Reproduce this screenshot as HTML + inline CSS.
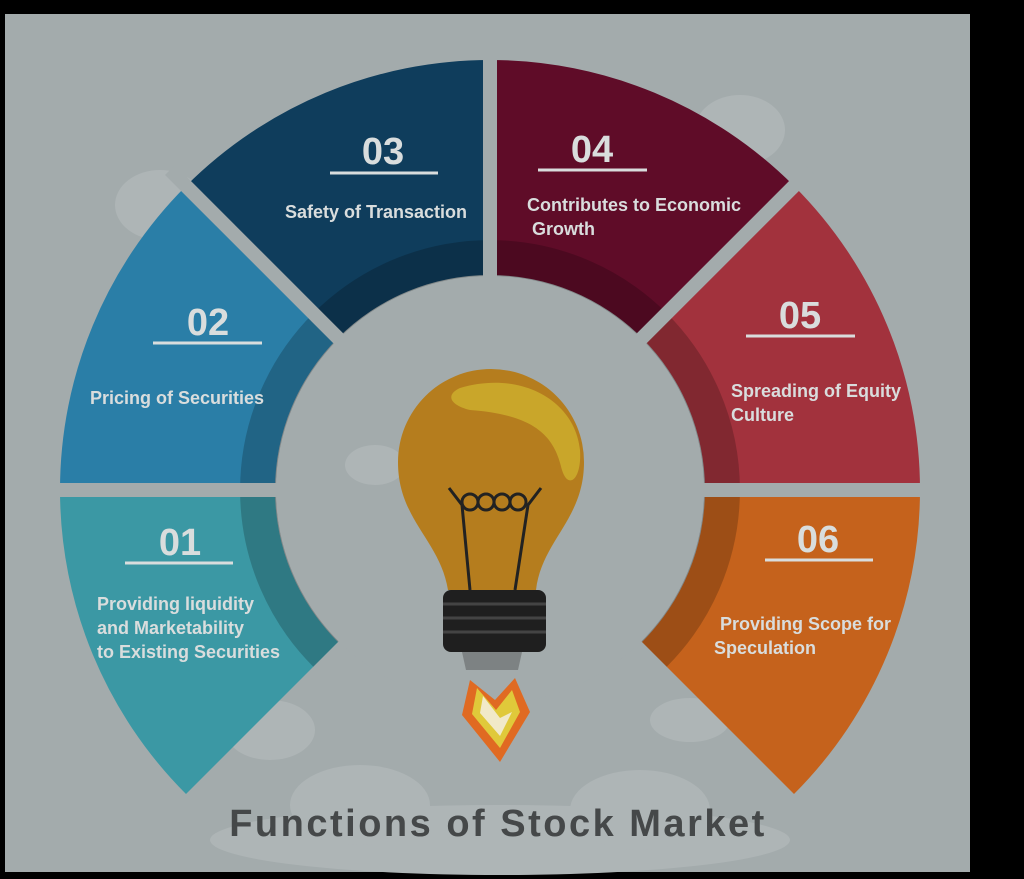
<!DOCTYPE html>
<html><head><style>
html,body{margin:0;padding:0;background:#000;}
svg{display:block}
text{font-family:"Liberation Sans",sans-serif;}
</style></head><body>
<svg width="1024" height="879" viewBox="0 0 1024 879" xmlns="http://www.w3.org/2000/svg">
<rect width="1024" height="879" fill="#000"/>
<rect x="5" y="14" width="965" height="858" fill="#a3abac"/>
<g fill="#aeb5b6">
<ellipse cx="160" cy="205" rx="45" ry="35"/>
<ellipse cx="740" cy="130" rx="45" ry="35"/>
<ellipse cx="690" cy="720" rx="40" ry="22"/>
<ellipse cx="270" cy="730" rx="45" ry="30"/>
<ellipse cx="500" cy="840" rx="290" ry="35"/>
<ellipse cx="360" cy="805" rx="70" ry="40"/>
<ellipse cx="640" cy="810" rx="70" ry="40"/>
</g>
<path d="M186 794 A430 430 0 0 1 60 490 L275 490 A215 215 0 0 0 338 642 Z" fill="#3b98a4"/>
<path d="M60 490 A430 430 0 0 1 186 186 L338 338 A215 215 0 0 0 275 490 Z" fill="#2a7ea7"/>
<path d="M186 186 A430 430 0 0 1 490 60 L490 275 A215 215 0 0 0 338 338 Z" fill="#0f3d5c"/>
<path d="M490 60 A430 430 0 0 1 794 186 L642 338 A215 215 0 0 0 490 275 Z" fill="#5f0c28"/>
<path d="M794 186 A430 430 0 0 1 920 490 L705 490 A215 215 0 0 0 642 338 Z" fill="#a2323d"/>
<path d="M920 490 A430 430 0 0 1 794 794 L642 642 A215 215 0 0 0 705 490 Z" fill="#c5621c"/>
<path d="M326 654 A232 232 0 1 1 654 654" fill="none" stroke="#000" stroke-opacity="0.2" stroke-width="36"/>
<g stroke="#a3abac" stroke-width="14">
<line x1="490" y1="490" x2="490" y2="40"/>
<line x1="490" y1="490" x2="30" y2="490"/>
<line x1="490" y1="490" x2="950" y2="490"/>
<line x1="490" y1="490" x2="170" y2="170"/>
<line x1="490" y1="490" x2="810" y2="170"/>
</g>
<circle cx="490" cy="490" r="214" fill="#a3abac"/>
<ellipse cx="375" cy="465" rx="30" ry="20" fill="#aeb5b6"/>
<g fill="#d9dddd" text-anchor="middle" font-size="38" font-weight="bold" font-family="Liberation Sans Narrow, Liberation Sans, sans-serif">
<text x="180" y="555">01</text>
<text x="208" y="335">02</text>
<text x="383" y="164">03</text>
<text x="592" y="162">04</text>
<text x="800" y="328">05</text>
<text x="818" y="552">06</text>
</g>
<g stroke="#d9dddd" stroke-width="3">
<line x1="125" y1="563" x2="233" y2="563"/>
<line x1="153" y1="343" x2="262" y2="343"/>
<line x1="330" y1="173" x2="438" y2="173"/>
<line x1="538" y1="170" x2="647" y2="170"/>
<line x1="746" y1="336" x2="855" y2="336"/>
<line x1="765" y1="560" x2="873" y2="560"/>
</g>
<g fill="#d9dddd" font-size="18" font-weight="bold">
<text x="97" y="610">Providing liquidity</text>
<text x="97" y="634">and Marketability</text>
<text x="97" y="658">to Existing Securities</text>
<text x="90" y="404">Pricing of Securities</text>
<text x="376" y="218" text-anchor="middle">Safety of Transaction</text>
<text x="527" y="211">Contributes to Economic</text>
<text x="532" y="235">Growth</text>
<text x="731" y="397">Spreading of Equity</text>
<text x="731" y="421">Culture</text>
<text x="720" y="630">Providing Scope for</text>
<text x="714" y="654">Speculation</text>
</g>
<path d="M448 590 C440 540 398 520 398 462 A93 93 0 0 1 584 462 C584 520 542 540 536 590 Z" fill="#b57d1e"/>
<path d="M460 388 C520 370 575 400 580 450 C582 480 568 490 562 470 C555 440 540 415 470 410 C450 405 445 395 460 388 Z" fill="#c9a62a"/>
<g fill="none" stroke="#222" stroke-width="3">
<path d="M449 488 L462 505 L470 590 M541 488 L528 505 L515 590"/>
<circle cx="470" cy="502" r="8"/>
<circle cx="486" cy="502" r="8"/>
<circle cx="502" cy="502" r="8"/>
<circle cx="518" cy="502" r="8"/>
</g>
<rect x="443" y="590" width="103" height="62" rx="8" fill="#1f1f1f"/>
<g stroke="#444" stroke-width="3"><line x1="443" y1="604" x2="546" y2="604"/><line x1="443" y1="618" x2="546" y2="618"/><line x1="443" y1="632" x2="546" y2="632"/></g>
<path d="M462 652 L522 652 L518 670 L466 670 Z" fill="#7d8283"/>
<path d="M470 680 L462 715 L500 762 L530 712 L515 678 L495 700 Z" fill="#e06a22"/>
<path d="M477 688 L472 714 L500 748 L520 712 L512 690 L496 710 Z" fill="#e0c93a"/>
<path d="M483 696 L480 713 L500 736 L512 712 L500 718 Z" fill="#f1e9c8"/>
<text x="498" y="836" text-anchor="middle" font-size="38" font-weight="bold" letter-spacing="2.5" fill="#454849">Functions of Stock Market</text>
</svg>
</body></html>
